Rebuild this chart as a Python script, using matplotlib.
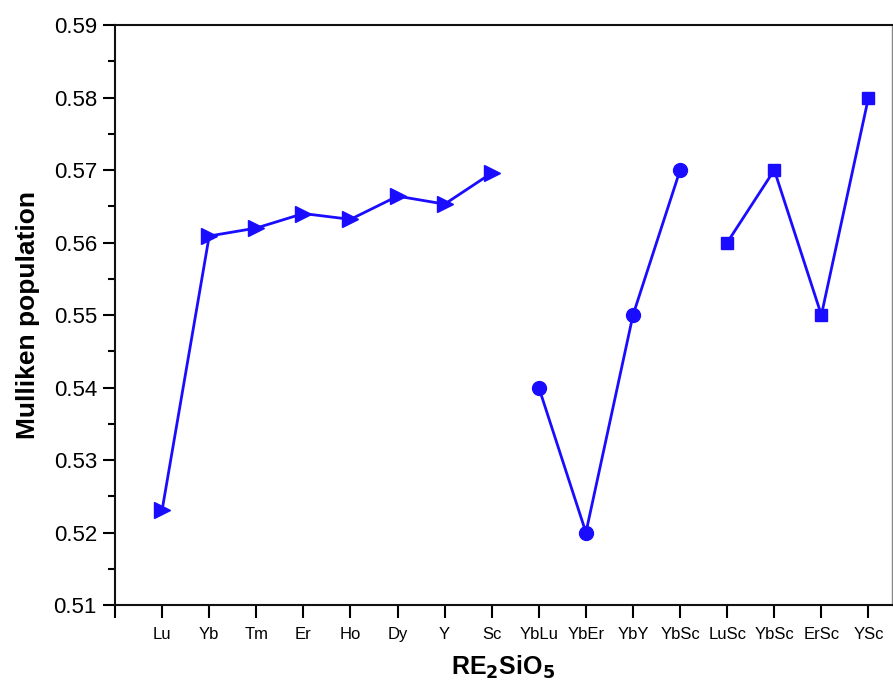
import matplotlib
matplotlib.use("Agg")
import matplotlib.pyplot as plt
from matplotlib.ticker import MultipleLocator

BLUE = "#1a0dff"

labels = ["Lu", "Yb", "Tm", "Er", "Ho", "Dy", "Y", "Sc",
          "YbLu", "YbEr", "YbY", "YbSc", "LuSc", "YbSc", "ErSc", "YSc"]

single_x = [1, 2, 3, 4, 5, 6, 7, 8]
single_y = [0.5231, 0.5609, 0.5620, 0.5640, 0.5632, 0.5664, 0.5653, 0.5696]

yb_x = [9, 10, 11, 12]
yb_y = [0.540, 0.520, 0.550, 0.570]

sc_x = [13, 14, 15, 16]
sc_y = [0.560, 0.570, 0.550, 0.580]

plt.rcParams["font.family"] = ["Liberation Sans", "DejaVu Sans"]

fig = plt.figure(figsize=(8.93, 6.96), dpi=100)
ax = fig.add_axes([0.1288, 0.1307, 0.8701, 0.8333])

ax.plot(single_x, single_y, "-", marker=">", color=BLUE, lw=2, ms=11, zorder=3)
ax.plot(yb_x, yb_y, "-", marker="o", color=BLUE, lw=2, ms=10, zorder=3)
ax.plot(sc_x, sc_y, "-", marker="s", color=BLUE, lw=2, ms=9, zorder=3)

ax.set_xlim(0, 16.5)
ax.set_ylim(0.51, 0.59)
ax.set_xticks([0] + list(range(1, 17)))
ax.set_xticklabels([""] + labels, fontsize=12)
ax.yaxis.set_major_locator(MultipleLocator(0.01))
ax.yaxis.set_minor_locator(MultipleLocator(0.005))
ax.set_yticklabels([f"{v:.2f}" for v in ax.get_yticks()], fontsize=16)

ax.tick_params(axis="both", which="major", direction="out", length=9, width=1.5, pad=4)
ax.tick_params(axis="x", which="major", pad=7)
ax.tick_params(axis="y", which="minor", direction="out", length=5, width=1.5)

for sp in ("left", "bottom", "top"):
    ax.spines[sp].set_linewidth(1.5)
    ax.spines[sp].set_color("#111111")
ax.spines["right"].set_linewidth(1.0)
ax.spines["right"].set_color("#888888")

ax.set_ylabel("Mulliken population", fontsize=19, fontweight="bold", labelpad=10)
ax.set_xlabel(r"RE$_\mathbf{2}$SiO$_\mathbf{5}$", fontsize=18, fontweight="bold", labelpad=8)

fig.savefig("out.png", dpi=100, facecolor="white")
